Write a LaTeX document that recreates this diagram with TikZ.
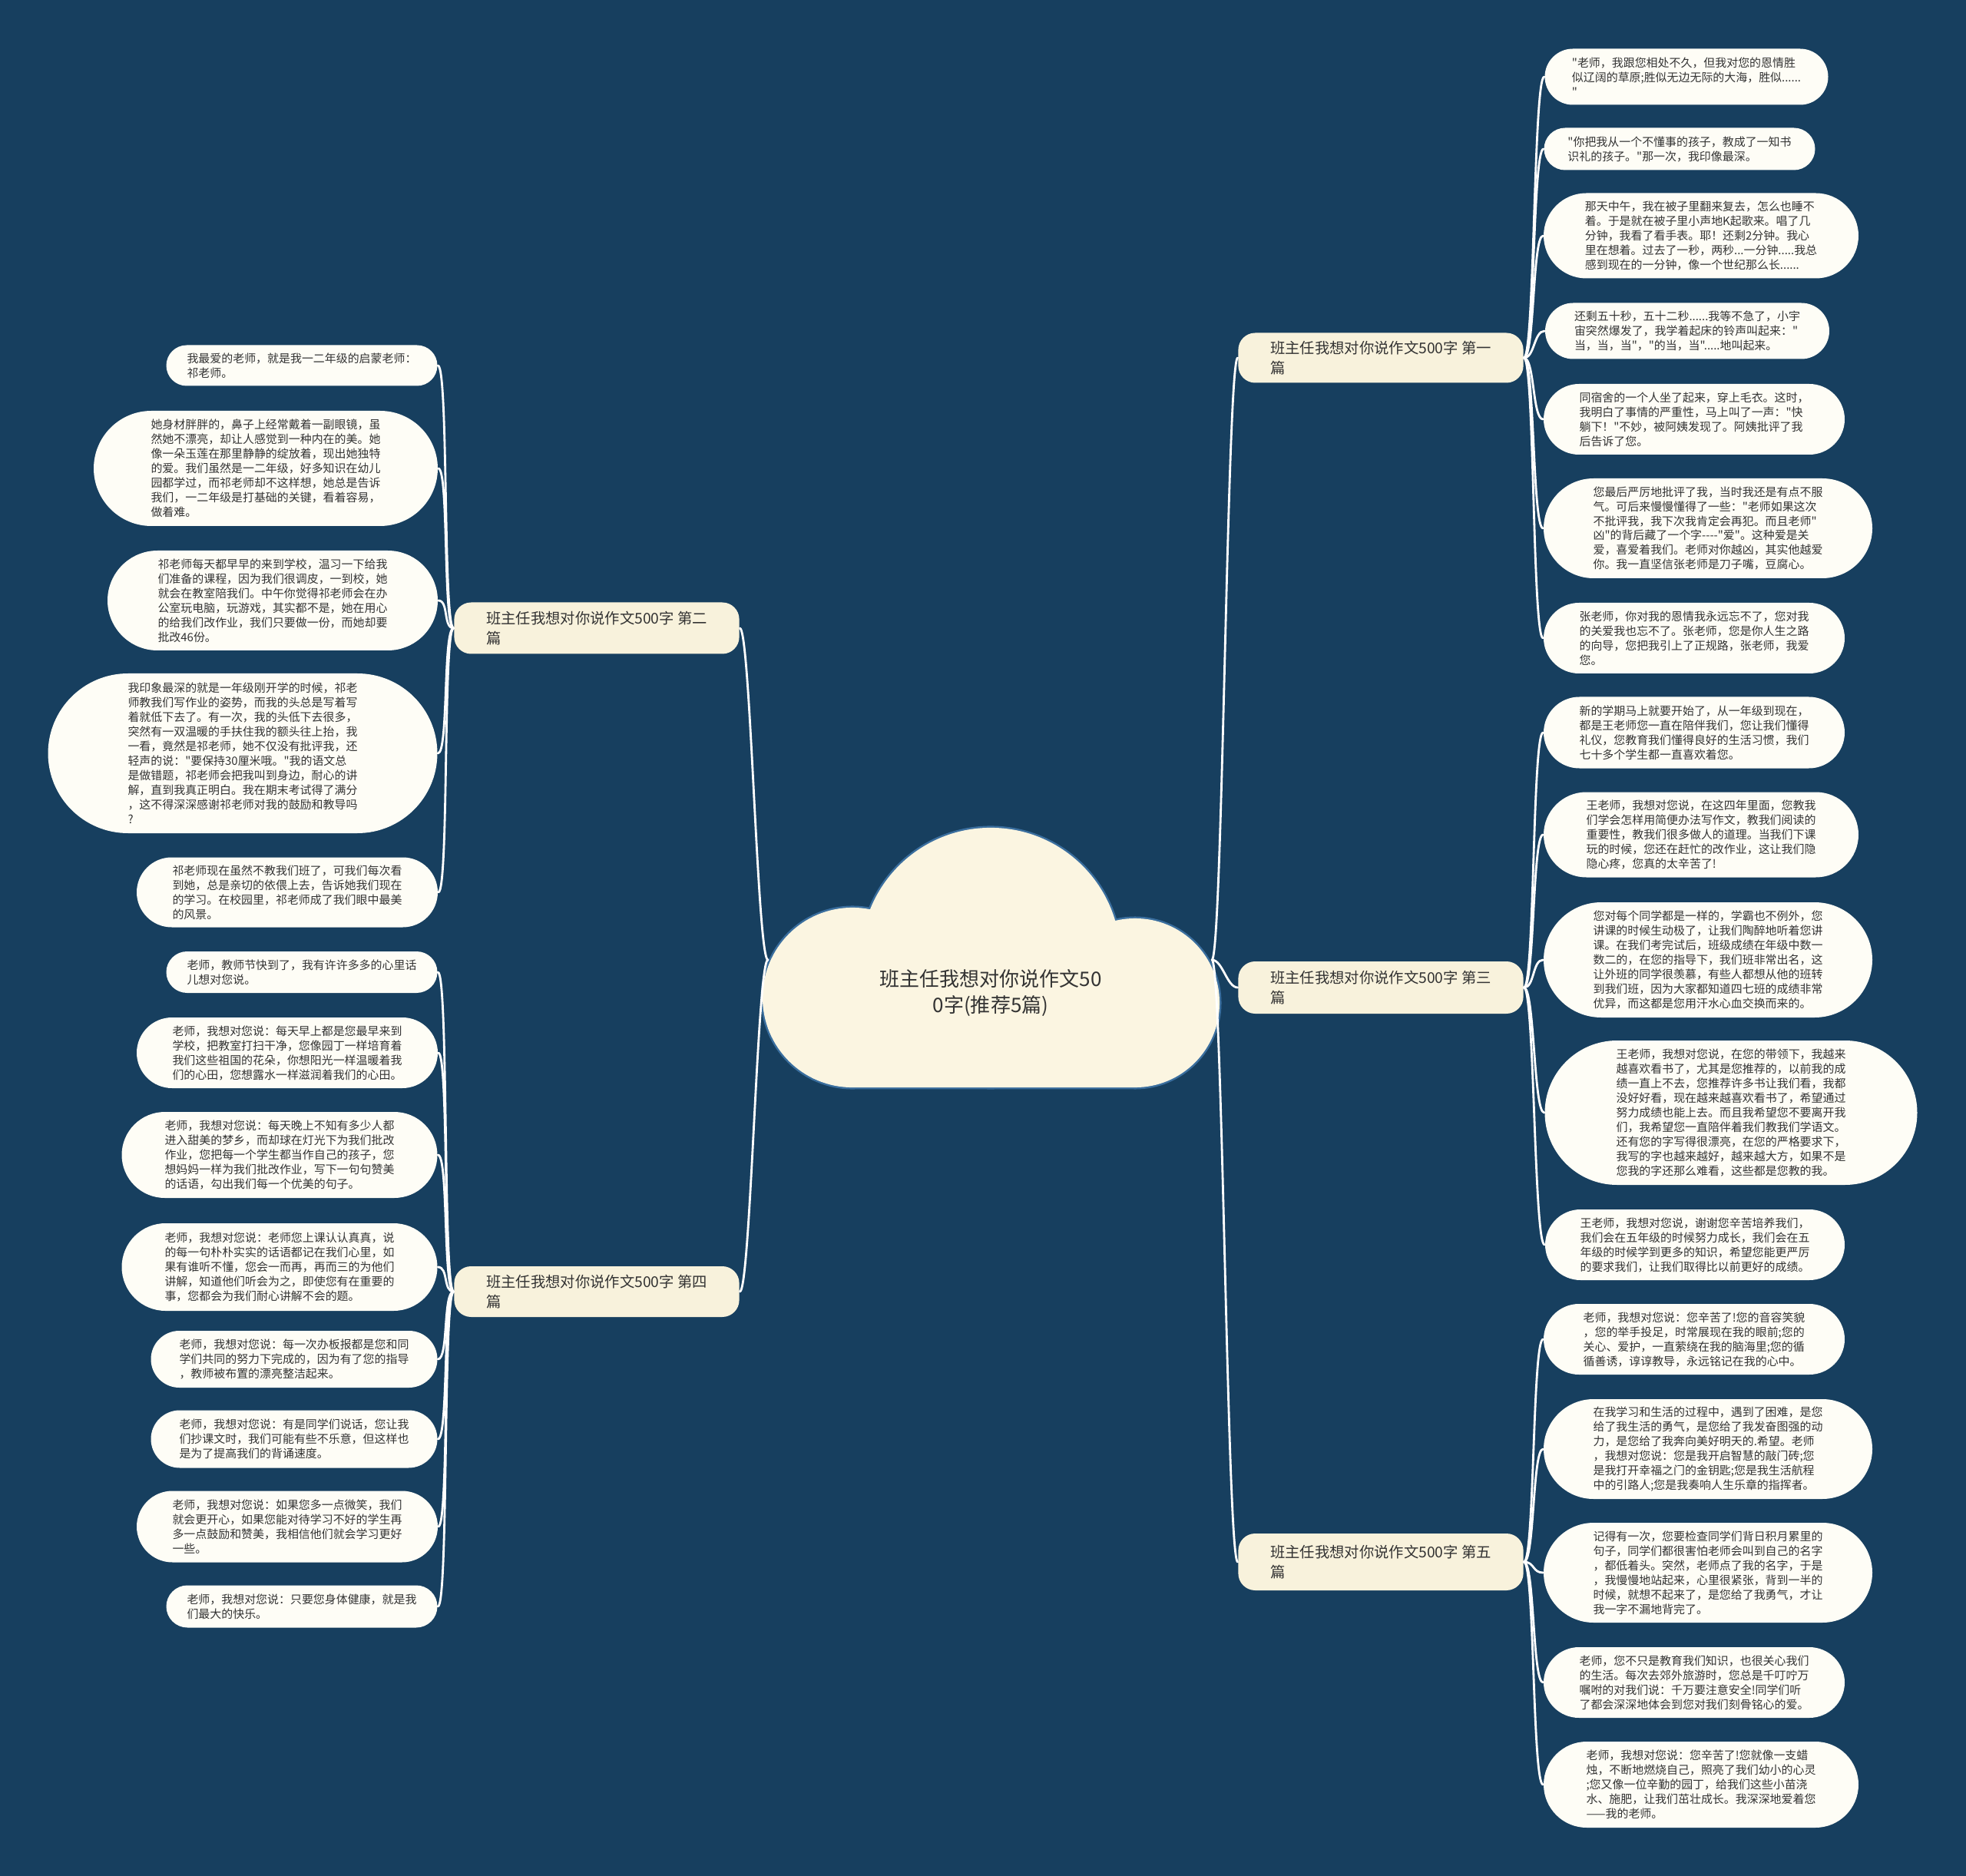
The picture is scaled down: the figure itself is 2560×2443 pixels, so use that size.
\documentclass[tikz,border=0pt]{standalone}
\usepackage{fontspec}
\newfontfamily\cjkfont{Noto Sans CJK SC}
\definecolor{bgblue}{HTML}{173F5F}
\definecolor{cloudline}{HTML}{3A6E9E}
\definecolor{cream}{HTML}{FBF5E1}
\definecolor{branchfill}{HTML}{F8F2DC}
\definecolor{leaffill}{HTML}{FEFDF6}
\definecolor{inkgray}{HTML}{333333}
\begin{document}
\begin{tikzpicture}[x=0.01cm, y=-0.01cm, line join=round, line cap=round,
  leaf/.style 2 args={fill=leaffill, text=inkgray, inner sep=0pt, align=left,
    minimum width=#1*0.01cm, minimum height=#2*0.01cm, rounded corners=#2*0.005cm,
    font=\cjkfont\fontsize{4.25}{5.4}\selectfont},
  branch/.style={fill=branchfill, text=inkgray, inner sep=0pt, align=left,
    minimum width=3.71cm, minimum height=#1*0.01cm, rounded corners=0.22cm,
    font=\cjkfont\fontsize{5.5}{7.4}\selectfont},
  twig/.style={draw=white, line width=0.8pt}]
\fill[bgblue] (0,0) rectangle (2560,2443);
\path[draw=cloudline, line width=1.4pt, fill=cream] (1290,1247) circle (1.69cm) (1110,1299) circle (1.17cm) (1478,1306) circle (1.10cm) (1110,1299) rectangle (1478,1416);
\path[fill=cream] (1290,1247) circle (1.69cm) (1110,1299) circle (1.17cm) (1478,1306) circle (1.10cm) (1110,1299) rectangle (1478,1416);
\node[text=inkgray, align=center, font=\cjkfont\fontsize{7.4}{9.8}\selectfont] (root) at (1290,1293) {班主任我想对你说作文50\\0字(推荐5篇)};
\coordinate (rootw) at (1000,1250);
\coordinate (roote) at (1578,1250);

\node[branch=65] (one) at (1798,466) {班主任我想对你说作文500字 第一\\篇};
\node[branch=67] (two) at (777,818) {班主任我想对你说作文500字 第二\\篇};
\node[branch=68] (three) at (1798,1286) {班主任我想对你说作文500字 第三\\篇};
\node[branch=66] (four) at (777,1682) {班主任我想对你说作文500字 第四\\篇};
\node[branch=74] (five) at (1798,2034) {班主任我想对你说作文500字 第五\\篇};

\node[leaf={369}{73}] (one1) at (2196,100) {"老师，我跟您相处不久，但我对您的恩情胜\\似辽阔的草原;胜似无边无际的大海，胜似......\\"};
\node[leaf={353}{55}] (one2) at (2187,194) {"你把我从一个不懂事的孩子，教成了一知书\\识礼的孩子。"那一次，我印像最深。};
\node[leaf={410}{111}] (one3) at (2215,307) {那天中午，我在被子里翻来复去，怎么也睡不\\着。于是就在被子里小声地K起歌来。唱了几\\分钟，我看了看手表。耶！还剩2分钟。我心\\里在想着。过去了一秒，两秒...一分钟.....我总\\感到现在的一分钟，像一个世纪那么长......};
\node[leaf={370}{73}] (one4) at (2197,431) {还剩五十秒，五十二秒......我等不急了，小宇\\宙突然爆发了，我学着起床的铃声叫起来："\\当，当，当"，"的当，当".....地叫起来。};
\node[leaf={392}{92}] (one5) at (2206,546) {同宿舍的一个人坐了起来，穿上毛衣。这时，\\我明白了事情的严重性，马上叫了一声："快\\躺下！"不妙，被阿姨发现了。阿姨批评了我\\后告诉了您。};
\node[leaf={428}{130}] (one6) at (2224,688) {您最后严厉地批评了我，当时我还是有点不服\\气。可后来慢慢懂得了一些："老师如果这次\\不批评我，我下次我肯定会再犯。而且老师"\\凶"的背后藏了一个字----"爱"。这种爱是关\\爱，喜爱着我们。老师对你越凶，其实他越爱\\你。我一直坚信张老师是刀子嘴，豆腐心。};
\node[leaf={392}{92}] (one7) at (2206,831) {张老师，你对我的恩情我永远忘不了，您对我\\的关爱我也忘不了。张老师，您是你人生之路\\的向导，您把我引上了正规路，张老师，我爱\\您。};

\node[leaf={392}{93}] (three1) at (2206,954) {新的学期马上就要开始了，从一年级到现在，\\都是王老师您一直在陪伴我们，您让我们懂得\\礼仪，您教育我们懂得良好的生活习惯，我们\\七十多个学生都一直喜欢着您。};
\node[leaf={410}{111}] (three2) at (2215,1087) {王老师，我想对您说，在这四年里面，您教我\\们学会怎样用简便办法写作文，教我们阅读的\\重要性，教我们很多做人的道理。当我们下课\\玩的时候，您还在赶忙的改作业，这让我们隐\\隐心疼，您真的太辛苦了!};
\node[leaf={428}{150}] (three3) at (2224,1250) {您对每个同学都是一样的，学霸也不例外，您\\讲课的时候生动极了，让我们陶醉地听着您讲\\课。在我们考完试后，班级成绩在年级中数一\\数二的，在您的指导下，我们班非常出名，这\\让外班的同学很羡慕，有些人都想从他的班转\\到我们班，因为大家都知道四七班的成绩非常\\优异，而这都是您用汗水心血交换而来的。};
\node[leaf={485}{188}] (three4) at (2254,1449) {王老师，我想对您说，在您的带领下，我越来\\越喜欢看书了，尤其是您推荐的，以前我的成\\绩一直上不去，您推荐许多书让我们看，我都\\没好好看，现在越来越喜欢看书了，希望通过\\努力成绩也能上去。而且我希望您不要离开我\\们，我希望您一直陪伴着我们教我们学语文。\\还有您的字写得很漂亮，在您的严格要求下，\\我写的字也越来越好，越来越大方，如果不是\\您我的字还那么难看，这些都是您教的我。};
\node[leaf={390}{92}] (three5) at (2207,1621) {王老师，我想对您说，谢谢您辛苦培养我们，\\我们会在五年级的时候努力成长，我们会在五\\年级的时候学到更多的知识，希望您能更严厉\\的要求我们，让我们取得比以前更好的成绩。};

\node[leaf={392}{92}] (five1) at (2206,1744) {老师，我想对您说：您辛苦了!您的音容笑貌\\，您的举手投足，时常展现在我的眼前;您的\\关心、爱护，一直萦绕在我的脑海里;您的循\\循善诱，谆谆教导，永远铭记在我的心中。};
\node[leaf={428}{130}] (five2) at (2224,1887) {在我学习和生活的过程中，遇到了困难，是您\\给了我生活的勇气，是您给了我发奋图强的动\\力，是您给了我奔向美好明天的.希望。老师\\，我想对您说：您是我开启智慧的敲门砖;您\\是我打开幸福之门的金钥匙;您是我生活航程\\中的引路人;您是我奏响人生乐章的指挥者。};
\node[leaf={428}{130}] (five3) at (2224,2048) {记得有一次，您要检查同学们背日积月累里的\\句子，同学们都很害怕老师会叫到自己的名字\\，都低着头。突然，老师点了我的名字，于是\\，我慢慢地站起来，心里很紧张，背到一半的\\时候，就想不起来了，是您给了我勇气，才让\\我一字不漏地背完了。};
\node[leaf={392}{92}] (five4) at (2206,2191) {老师，您不只是教育我们知识，也很关心我们\\的生活。每次去郊外旅游时，您总是千叮咛万\\嘱咐的对我们说：千万要注意安全!同学们听\\了都会深深地体会到您对我们刻骨铭心的爱。};
\node[leaf={410}{112}] (five5) at (2215,2324) {老师，我想对您说：您辛苦了!您就像一支蜡\\烛，不断地燃烧自己，照亮了我们幼小的心灵\\;您又像一位辛勤的园丁，给我们这些小苗浇\\水、施肥，让我们茁壮成长。我深深地爱着您\\——我的老师。};

\node[leaf={353}{53}] (two1) at (393,476) {我最爱的老师，就是我一二年级的启蒙老师：\\祁老师。};
\node[leaf={448}{150}] (two2) at (346,610) {她身材胖胖的，鼻子上经常戴着一副眼镜，虽\\然她不漂亮，却让人感觉到一种内在的美。她\\像一朵玉莲在那里静静的绽放着，现出她独特\\的爱。我们虽然是一二年级，好多知识在幼儿\\园都学过，而祁老师却不这样想，她总是告诉\\我们，一二年级是打基础的关键，看着容易，\\做着难。};
\node[leaf={430}{130}] (two3) at (355,782) {祁老师每天都早早的来到学校，温习一下给我\\们准备的课程，因为我们很调皮，一到校，她\\就会在教室陪我们。中午你觉得祁老师会在办\\公室玩电脑，玩游戏，其实都不是，她在用心\\的给我们改作业，我们只要做一份，而她却要\\批改46份。};
\node[leaf={507}{208}] (two4) at (316,981) {我印象最深的就是一年级刚开学的时候，祁老\\师教我们写作业的姿势，而我的头总是写着写\\着就低下去了。有一次，我的头低下去很多，\\突然有一双温暖的手扶住我的额头往上抬，我\\一看，竟然是祁老师，她不仅没有批评我，还\\轻声的说："要保持30厘米哦。"我的语文总\\是做错题，祁老师会把我叫到身边，耐心的讲\\解，直到我真正明白。我在期末考试得了满分\\，这不得深深感谢祁老师对我的鼓励和教导吗\\?};
\node[leaf={392}{91}] (two5) at (374,1162) {祁老师现在虽然不教我们班了，可我们每次看\\到她，总是亲切的依偎上去，告诉她我们现在\\的学习。在校园里，祁老师成了我们眼中最美\\的风景。};

\node[leaf={353}{54}] (four1) at (393,1266) {老师，教师节快到了，我有许许多多的心里话\\儿想对您说。};
\node[leaf={392}{92}] (four2) at (374,1371) {老师，我想对您说：每天早上都是您最早来到\\学校，把教室打扫干净，您像园丁一样培育着\\我们这些祖国的花朵，你想阳光一样温暖着我\\们的心田，您想露水一样滋润着我们的心田。};
\node[leaf={411}{112}] (four3) at (364,1504) {老师，我想对您说：每天晚上不知有多少人都\\进入甜美的梦乡，而却球在灯光下为我们批改\\作业，您把每一个学生都当作自己的孩子，您\\想妈妈一样为我们批改作业，写下一句句赞美\\的话语，勾出我们每一个优美的句子。};
\node[leaf={411}{114}] (four4) at (364,1650) {老师，我想对您说：老师您上课认认真真，说\\的每一句朴朴实实的话语都记在我们心里，如\\果有谁听不懂，您会一而再，再而三的为他们\\讲解，知道他们听会为之，即使您有在重要的\\事，您都会为我们耐心讲解不会的题。};
\node[leaf={373}{74}] (four5) at (383,1770) {老师，我想对您说：每一次办板报都是您和同\\学们共同的努力下完成的，因为有了您的指导\\，教师被布置的漂亮整洁起来。};
\node[leaf={373}{75}] (four6) at (383,1874) {老师，我想对您说：有是同学们说话，您让我\\们抄课文时，我们可能有些不乐意，但这样也\\是为了提高我们的背诵速度。};
\node[leaf={392}{93}] (four7) at (374,1988) {老师，我想对您说：如果您多一点微笑，我们\\就会更开心，如果您能对待学习不好的学生再\\多一点鼓励和赞美，我相信他们就会学习更好\\一些。};
\node[leaf={353}{55}] (four8) at (393,2092) {老师，我想对您说：只要您身体健康，就是我\\们最大的快乐。};

\foreach \b in {one,three,five}
  \draw[twig] (roote) .. controls +(14,0) and +(-14,0) .. (\b.west);
\foreach \b in {two,four}
  \draw[twig] (rootw) .. controls +(-14,0) and +(14,0) .. (\b.east);
\foreach \n in {one1,one2,one3,one4,one5,one6,one7}
  \draw[twig] (one.east) .. controls +(14,0) and +(-14,0) .. (\n.west);
\foreach \n in {three1,three2,three3,three4,three5}
  \draw[twig] (three.east) .. controls +(14,0) and +(-14,0) .. (\n.west);
\foreach \n in {five1,five2,five3,five4,five5}
  \draw[twig] (five.east) .. controls +(14,0) and +(-14,0) .. (\n.west);
\foreach \n in {two1,two2,two3,two4,two5}
  \draw[twig] (two.west) .. controls +(-14,0) and +(14,0) .. (\n.east);
\foreach \n in {four1,four2,four3,four4,four5,four6,four7,four8}
  \draw[twig] (four.west) .. controls +(-14,0) and +(14,0) .. (\n.east);
\end{tikzpicture}
\end{document}
